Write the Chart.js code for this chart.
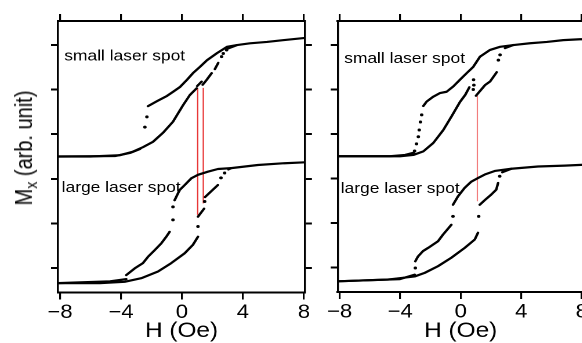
<!DOCTYPE html>
<html>
<head>
<meta charset="utf-8">
<script src="https://cdn.jsdelivr.net/npm/chart.js@4.4.1/dist/chart.umd.min.js"></script>
<style>
  html, body { margin: 0; padding: 0; background: #fff; overflow: hidden; }
  body { width: 582px; height: 343px; position: relative; }
  /* the source figure is stretched ~16% horizontally, so the whole stage is too */
  #stage { position: absolute; left: 0; top: 0; width: 502px; height: 343px;
           transform: scaleX(1.16); transform-origin: 0 0; }
  #left-chart  { position: absolute; left: 0;     top: 0; }
  #right-chart { position: absolute; left: 270px; top: 0; }
  #y-title { position: absolute; left: 21px; top: 148px; white-space: nowrap;
             transform: translate(-50%, -50%) rotate(-90deg);
             font: 20px "Liberation Sans", Arial, sans-serif; color: #000; }
  #y-title sub { font-size: 14px; vertical-align: -4px; line-height: 0; }
</style>
</head>
<body>
<div id="stage">
  <canvas id="left-chart" width="280" height="343"></canvas>
  <canvas id="right-chart" width="240" height="343"></canvas>
  <div id="y-title">M<sub>x</sub> (arb. unit)</div>
</div>
<script>
/* ── axis ticks ── */
const H_TICKS = [-8, -4, 0, 4, 8];
const M_TICKS = [1, 2, 3, 4, 5, 6];

/* ── left panel: [H (Oe), Mx (arb.)], null = break in the trace ── */
const leftSmallUp = [
  [-8.13,3.50],[-6.0,3.50],[-4.07,3.53],[-3.21,3.61],[-2.56,3.71],[-1.90,3.83],[-1.25,4.03],
  [-0.59,4.28],[0.07,4.65],[0.52,4.88],[0.96,5.03], null,
  [1.00,5.08],[1.29,5.18], null,
  [1.36,5.11],[1.62,5.22],[1.95,5.37], null,
  [2.16,5.46],[2.38,5.60], null,
  [3.00,5.92],[3.61,6.00],[4.46,6.04],[5.57,6.07],[6.62,6.11],[8.07,6.16]
];
const leftSmallDown = [
  [3.61,6.00],[2.95,5.96],[2.30,5.82],[1.64,5.66],[1.18,5.51],[0.72,5.37],[0.33,5.22],
  [-0.13,5.06],[-0.59,4.95],[-0.98,4.86],[-1.64,4.74],[-2.23,4.63], null,
  [-2.75,3.67],[-3.41,3.58],[-4.39,3.51],[-8.13,3.50]
];
const leftSmallDots = [[-2.30,4.39],[-2.43,4.16],[2.60,5.74],[2.71,5.81],[2.93,5.89]];

const leftLargeUp = [
  [-8.13,0.66],[-5.38,0.66],[-3.76,0.69],[-2.67,0.77],[-1.57,0.92],[-0.70,1.11],[0.18,1.33],
  [0.72,1.52],[1.05,1.70], null,
  [1.05,2.15],[1.45,2.33], null,
  [1.51,2.59],[2.14,2.79],[2.36,2.86], null,
  [3.05,3.21],[3.23,3.24],[4.98,3.31],[6.73,3.35],[8.07,3.37]
];
const leftLargeDown = [
  [3.23,3.24],[2.36,3.22],[1.70,3.16],[1.05,3.09],[0.61,3.01],[0.18,2.86],[-0.15,2.75],[-0.48,2.52], null,
  [-0.81,1.81],[-1.03,1.70],[-1.36,1.55],[-1.79,1.40],[-2.23,1.25],[-2.56,1.11],[-3.10,0.99],[-3.65,0.84], null,
  [-3.65,0.75],[-4.72,0.70],[-8.13,0.66]
];
const leftLargeDots = [[1.05,1.93],[1.49,2.49],[2.56,3.02],[2.80,3.13],[-0.59,2.37],[-0.59,2.08]];

const leftMarkerH      = [1.03, 1.40];
const leftMarkerTop    = [5.04, 5.04];
const leftMarkerBottom = [2.19, 2.45];

/* ── right panel ── */
const rightSmallUp = [
  [-8.13,3.50],[-5.34,3.50],[-4.01,3.50],[-3.13,3.53],[-2.47,3.61],[-1.81,3.80],[-1.15,4.09],
  [-0.60,4.40],[-0.05,4.72],[0.30,4.88],[0.57,5.05], null,
  [1.01,4.86],[1.61,5.10],[1.94,5.18],[2.38,5.39], null,
  [2.93,5.93],[3.48,6.00],[4.58,6.04],[5.69,6.07],[6.78,6.11],[7.89,6.13],[8.13,6.13]
];
const rightSmallDown = [
  [3.48,6.00],[2.60,5.96],[1.94,5.89],[1.28,5.74],[0.83,5.51],[0.40,5.37],[-0.05,5.22],
  [-0.49,5.07],[-0.93,4.95],[-1.37,4.92],[-1.81,4.84],[-2.25,4.73],[-2.47,4.63], null,
  [-3.10,3.58],[-3.68,3.53],[-4.67,3.50],[-8.13,3.50]
];
const rightSmallDots = [[0.83,5.00],[0.87,5.10],[0.85,5.22],[2.49,5.66],[2.60,5.78],
  [-2.58,4.43],[-2.66,4.27],[-2.74,4.09],[-2.80,3.94],[-2.92,3.78],[-3.05,3.62]];

const rightLargeUp = [
  [-8.13,0.69],[-4.81,0.73],[-3.04,0.80],[-2.38,0.88],[-1.50,1.03],[-0.62,1.22],[0.26,1.44],
  [0.93,1.63],[1.14,1.78], null,
  [1.26,2.41],[1.61,2.52],[2.02,2.64],[2.35,2.75],[2.47,2.90], null,
  [2.75,3.14],[3.35,3.22],[5.11,3.27],[6.88,3.29],[8.13,3.31]
];
const rightLargeDown = [
  [3.35,3.22],[2.25,3.17],[1.59,3.09],[1.14,3.01],[0.70,2.93],[0.26,2.79],[-0.18,2.60],[-0.51,2.41], null,
  [-0.62,1.96],[-1.17,1.74],[-1.50,1.59],[-2.16,1.44],[-2.49,1.37],[-2.82,1.25],[-3.00,1.14], null,
  [-3.04,0.84],[-4.01,0.74],[-8.13,0.69]
];
const rightLargeDots = [[1.19,2.15],[2.58,3.05],[-0.51,2.15],[-3.00,0.99]];

const rightMarkerH      = [1.10];
const rightMarkerTop    = [4.86];
const rightMarkerBottom = [2.49];

const SPOT_TEXT = ['small laser spot', 'large laser spot'];

const FONT = '"Liberation Sans", Arial, sans-serif';

/* helpers */
const toPoints = pairs => pairs.map(p => p ? { x: p[0], y: p[1] } : { x: null, y: null });

function markerPoints(hs, tops, bottoms) {
  const out = [];
  hs.forEach((h, i) => { out.push({ x: h, y: tops[i] }, { x: h, y: bottoms[i] }, { x: null, y: null }); });
  return out;
}

const fmtTick = v => v < 0 ? '\u2212' + Math.abs(v) : String(v);

// draws the "small / large laser spot" captions at data positions
const spotLabels = {
  id: 'spotLabels',
  afterDatasetsDraw(chart, args, opts) {
    const { ctx, scales: { x, y } } = chart;
    ctx.save();
    ctx.font = `15px ${FONT}`;
    ctx.fillStyle = '#000';
    ctx.textAlign = 'left';
    ctx.textBaseline = 'alphabetic';
    (opts.items || []).forEach(it => ctx.fillText(it.text, x.getPixelForValue(it.h), y.getPixelForValue(it.m)));
    ctx.restore();
  }
};

function lineSet(pairs) {
  return { data: toPoints(pairs), showLine: true, borderColor: '#000', borderWidth: 2.2,
           borderJoinStyle: 'round', borderCapStyle: 'round', pointRadius: 0, order: 0 };
}
function dotSet(pairs) {
  return { data: toPoints(pairs), showLine: false, pointRadius: 1.5, pointBorderWidth: 0,
           pointBackgroundColor: '#000', order: 0 };
}

function makePanel(canvasId, p) {
  const tickMarks = { display: true, drawOnChartArea: false, drawTicks: true, color: '#000' };
  const setH = s => { s.ticks = H_TICKS.map(v => ({ value: v })); };
  const setM = s => { s.ticks = M_TICKS.map(v => ({ value: v })); };

  return new Chart(document.getElementById(canvasId), {
    type: 'scatter',
    data: { datasets: [
      lineSet(p.smallUp), lineSet(p.smallDown), dotSet(p.smallDots),
      lineSet(p.largeUp), lineSet(p.largeDown), dotSet(p.largeDots),
      { data: markerPoints(p.markerH, p.markerTop, p.markerBottom), showLine: true,
        borderColor: p.markerColor, borderWidth: 1.1, pointRadius: 0, order: 1 },
    ]},
    options: {
      responsive: false,
      animation: false,
      devicePixelRatio: 2,
      layout: { padding: 0 },
      plugins: {
        legend: { display: false },
        tooltip: { enabled: false },
        spotLabels: { items: p.labels },
      },
      scales: {
        x: {
          type: 'linear', position: 'bottom', min: p.hMin, max: p.hMax,
          afterBuildTicks: setH,
          afterFit: s => { s.height = p.bottomH; },
          grid: { ...tickMarks, tickLength: 7, lineWidth: 1.6 },
          border: { display: true, color: '#000', width: 2 },
          ticks: { color: '#000', font: { family: FONT, size: 19 }, padding: 2,
                   maxRotation: 0, autoSkip: false, callback: v => fmtTick(v) },
          title: { display: true, text: 'H (Oe)', color: '#000',
                   font: { family: FONT, size: 21 }, padding: { top: 0, bottom: -1 } },
        },
        xTop: {
          type: 'linear', position: 'top', min: p.hMin, max: p.hMax,
          afterBuildTicks: setH,
          afterFit: s => { s.height = 21; },
          grid: { ...tickMarks, tickLength: 7, lineWidth: 1.6 },
          border: { display: true, color: '#000', width: 2 },
          ticks: { display: false },
        },
        y: {
          type: 'linear', position: 'left', min: 0.45, max: 6.54,
          afterBuildTicks: setM,
          afterFit: s => { s.width = p.leftW; },
          grid: { ...tickMarks, tickLength: 6, lineWidth: 2 },
          border: { display: true, color: '#000', width: 1.7 },
          ticks: { display: false },
        },
        yRight: {
          type: 'linear', position: 'right', min: 0.45, max: 6.54,
          afterBuildTicks: setM,
          afterFit: s => { s.width = p.rightW; },
          grid: { ...tickMarks, tickLength: 6, lineWidth: 2 },
          border: { display: true, color: '#000', width: 1.7 },
          ticks: { display: false },
        },
      }
    },
    plugins: [spotLabels]
  });
}

makePanel('left-chart', {
  hMin: -8.13, hMax: 8.07, leftW: 50.0, rightW: 17.1, bottomH: 50.5,
  smallUp: leftSmallUp, smallDown: leftSmallDown, smallDots: leftSmallDots,
  largeUp: leftLargeUp, largeDown: leftLargeDown, largeDots: leftLargeDots,
  markerH: leftMarkerH, markerTop: leftMarkerTop, markerBottom: leftMarkerBottom,
  markerColor: 'rgb(232,55,55)',
  labels: [ { text: SPOT_TEXT[0], h: -7.72, m: 5.65 }, { text: SPOT_TEXT[1], h: -7.89, m: 2.70 } ],
});

makePanel('right-chart', {
  hMin: -8.13, hMax: 8.13, leftW: 21.1, rightW: 6.8, bottomH: 51,
  smallUp: rightSmallUp, smallDown: rightSmallDown, smallDots: rightSmallDots,
  largeUp: rightLargeUp, largeDown: rightLargeDown, largeDots: rightLargeDots,
  markerH: rightMarkerH, markerTop: rightMarkerTop, markerBottom: rightMarkerBottom,
  markerColor: 'rgb(242,125,125)',
  labels: [ { text: SPOT_TEXT[0], h: -7.70, m: 5.60 }, { text: SPOT_TEXT[1], h: -7.93, m: 2.67 } ],
});
</script>
</body>
</html>
